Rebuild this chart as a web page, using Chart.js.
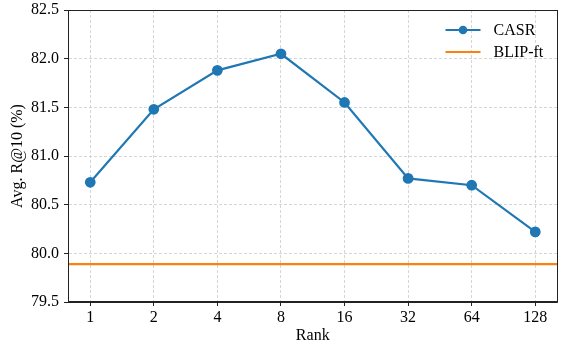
<!DOCTYPE html>
<html>
<head>
<meta charset="utf-8">
<script src="https://cdn.jsdelivr.net/npm/chart.js@4/dist/chart.umd.min.js"></script>
<style>
  html, body { margin: 0; padding: 0; background: #fff; }
  #wrap { width: 564px; height: 345px; }
</style>
</head>
<body>
<div id="wrap"><canvas id="chart"></canvas></div>
<script>
var ranks = ["1", "2", "4", "8", "16", "32", "64", "128"];
var casrValues = [80.73, 81.48, 81.88, 82.05, 81.55, 80.77, 80.70, 80.22];
var blipValue = 79.89;
var yTicks = [79.5, 80.0, 80.5, 81.0, 81.5, 82.0, 82.5];

var BLUE = "#1f77b4";
var ORANGE = "#ff7f0e";
var FONT = "'Liberation Serif', 'Times New Roman', serif";

var casrPoints = casrValues.map(function (v, i) { return { x: i, y: v }; });
var xMin = -0.35, xMax = ranks.length - 1 + 0.35;

// box around plot + matplotlib style legend
var framePlugin = {
    id: "frame",
    afterDatasetsDraw: function (chart) {
        var a = chart.chartArea;
        var ctx = chart.ctx;
        ctx.save();
        ctx.strokeStyle = "#222";
        ctx.lineWidth = 1;
        ctx.strokeRect(Math.round(a.left) + 0.5, Math.round(a.top) + 0.5,
            Math.round(a.right - a.left) - 1, Math.round(a.bottom - a.top) - 1);

        var x0 = a.right - 112, y0 = a.top + 20;
        var items = [
            { label: "CASR", color: BLUE, marker: true },
            { label: "BLIP-ft", color: ORANGE, marker: false }
        ];
        items.forEach(function (it, k) {
            var y = y0 + k * 22;
            ctx.strokeStyle = it.color;
            ctx.lineWidth = 2.2;
            ctx.beginPath();
            ctx.moveTo(x0, y);
            ctx.lineTo(x0 + 35, y);
            ctx.stroke();
            if (it.marker) {
                ctx.fillStyle = it.color;
                ctx.beginPath();
                ctx.arc(x0 + 17.5, y, 4.3, 0, Math.PI * 2);
                ctx.fill();
            }
            ctx.fillStyle = "#000";
            ctx.font = "16px " + FONT;
            ctx.textBaseline = "middle";
            ctx.fillText(it.label, x0 + 48, y + 1);
        });
        ctx.restore();
    }
};

var chart = new Chart(document.getElementById("chart"), {
    type: "scatter",
    data: {
        datasets: [
            {
                label: "CASR",
                data: casrPoints,
                showLine: true,
                borderColor: BLUE,
                backgroundColor: BLUE,
                borderWidth: 2.2,
                pointRadius: 4.3,
                pointHoverRadius: 4.3
            },
            {
                label: "BLIP-ft",
                data: [{ x: xMin, y: blipValue }, { x: xMax, y: blipValue }],
                showLine: true,
                borderColor: ORANGE,
                backgroundColor: ORANGE,
                borderWidth: 2.2,
                pointRadius: 0
            }
        ]
    },
    options: {
        responsive: true,
        maintainAspectRatio: false,
        animation: false,
        layout: { padding: { top: 10, right: 2, left: 0, bottom: 0 } },
        scales: {
            x: {
                type: "linear",
                min: xMin,
                max: xMax,
                afterBuildTicks: function (scale) {
                    scale.ticks = ranks.map(function (r, i) { return { value: i }; });
                },
                afterFit: function (scale) {
                    scale.height = 43;
                    scale.paddingLeft = 0;
                    scale.paddingRight = 0;
                },
                grid: {
                    color: "#cccccc",
                    tickColor: "#222",
                    tickLength: 4,
                    tickBorderDash: [],
                    tickWidth: 1,
                    lineWidth: 0.8
                },
                border: { display: true, color: "#222", dash: [3, 2] },
                ticks: {
                    color: "#000",
                    padding: 2,
                    maxRotation: 0,
                    font: { family: FONT, size: 16 },
                    callback: function (v) { return ranks[v]; }
                },
                title: {
                    display: true,
                    text: "Rank",
                    color: "#000",
                    padding: { top: 0, bottom: 0 },
                    font: { family: FONT, size: 16 }
                }
            },
            y: {
                min: 79.5,
                max: 82.5,
                afterBuildTicks: function (scale) {
                    scale.ticks = yTicks.map(function (v) { return { value: v }; });
                },
                afterFit: function (scale) {
                    scale.width = 68;
                    scale.paddingTop = 0;
                    scale.paddingBottom = 0;
                },
                grid: {
                    color: "#cccccc",
                    tickColor: "#222",
                    tickLength: 4,
                    tickBorderDash: [],
                    tickWidth: 1,
                    lineWidth: 0.8
                },
                border: { display: true, color: "#222", dash: [3, 2] },
                ticks: {
                    color: "#000",
                    padding: 5,
                    font: { family: FONT, size: 16 },
                    callback: function (v) { return v.toFixed(1); }
                },
                title: {
                    display: true,
                    text: "Avg. R@10 (%)",
                    color: "#000",
                    padding: { top: 8, bottom: 0 },
                    font: { family: FONT, size: 16 }
                }
            }
        },
        plugins: {
            legend: { display: false },
            tooltip: { enabled: false }
        }
    },
    plugins: [framePlugin]
});
</script>
</body>
</html>
